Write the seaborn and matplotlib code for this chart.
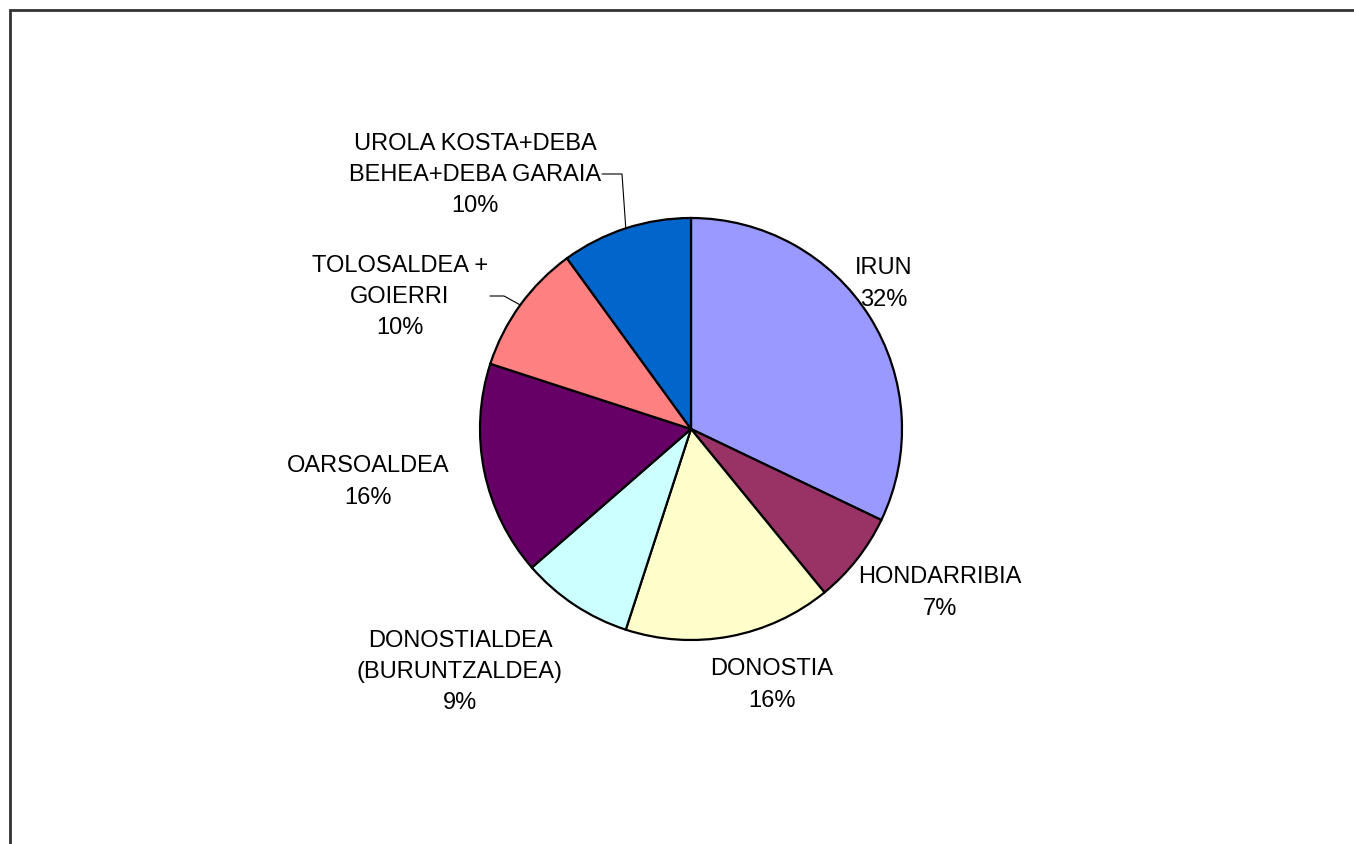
import numpy as np
import matplotlib
matplotlib.use("Agg")
import matplotlib.pyplot as plt
import seaborn as sns
from matplotlib.patches import Rectangle

# datos
zonas = ["IRUN", "HONDARRIBIA", "DONOSTIA", "DONOSTIALDEA\n(BURUNTZALDEA)",
         "OARSOALDEA", "TOLOSALDEA +\nGOIERRI", "UROLA KOSTA+DEBA\nBEHEA+DEBA GARAIA"]
porcentajes = [32.1, 7.0, 15.9, 8.6, 16.4, 10.0, 10.0]
colores = ["#9999FF", "#993366", "#FFFFCC", "#CCFFFF", "#660066", "#FF8080", "#0066CC"]

# posicion de las etiquetas (pixeles, desde arriba)
pos_etiquetas = [(884, 284), (940, 593), (772, 685), (460, 672),
                 (368, 482), (400, 297), (475, 175)]
# lineas guia: (indice, x donde empieza, x fin tramo horizontal, y)
guias = [(6, 602, 622, 175), (5, 490, 504, 297)]

W, H = 1354, 845
sns.set_theme(style="white")
plt.rcParams["font.family"] = ["Liberation Sans", "DejaVu Sans"]

fig = plt.figure(figsize=(W / 100, H / 100), dpi=100)
ax = fig.add_axes([0, 0, 1, 1])

cx, cy, r = 691, H - 430, 211
wedges, _ = ax.pie(porcentajes, colors=colores, startangle=90, counterclock=False,
                   center=(cx, cy), radius=r,
                   wedgeprops=dict(edgecolor="black", linewidth=1.6))

for nombre, p, (x, y) in zip(zonas, porcentajes, pos_etiquetas):
    ax.text(x, H - y, f"{nombre}\n{p:.0f}%", ha="center", va="center",
            fontsize=17, linespacing=1.55, color="black")

# lineas guia hacia el borde de la cuña
for i, x0, x1, y in guias:
    w = wedges[i]
    ang = np.deg2rad((w.theta1 + w.theta2) / 2)
    xe, ye = cx + r * np.cos(ang), cy + r * np.sin(ang)
    ax.plot([x0, x1, xe], [H - y, H - y, ye], color="black", lw=0.8)

ax.set_xlim(0, W)
ax.set_ylim(0, H)
ax.set_aspect("auto")
ax.axis("off")

# marco del grafico
fig.patches.append(Rectangle((10 / W, -0.1), 1.2, 1.1 - 10.5 / H,
                             transform=fig.transFigure, fill=False,
                             edgecolor="#333333", linewidth=2))

fig.savefig("out.png", dpi=100)
